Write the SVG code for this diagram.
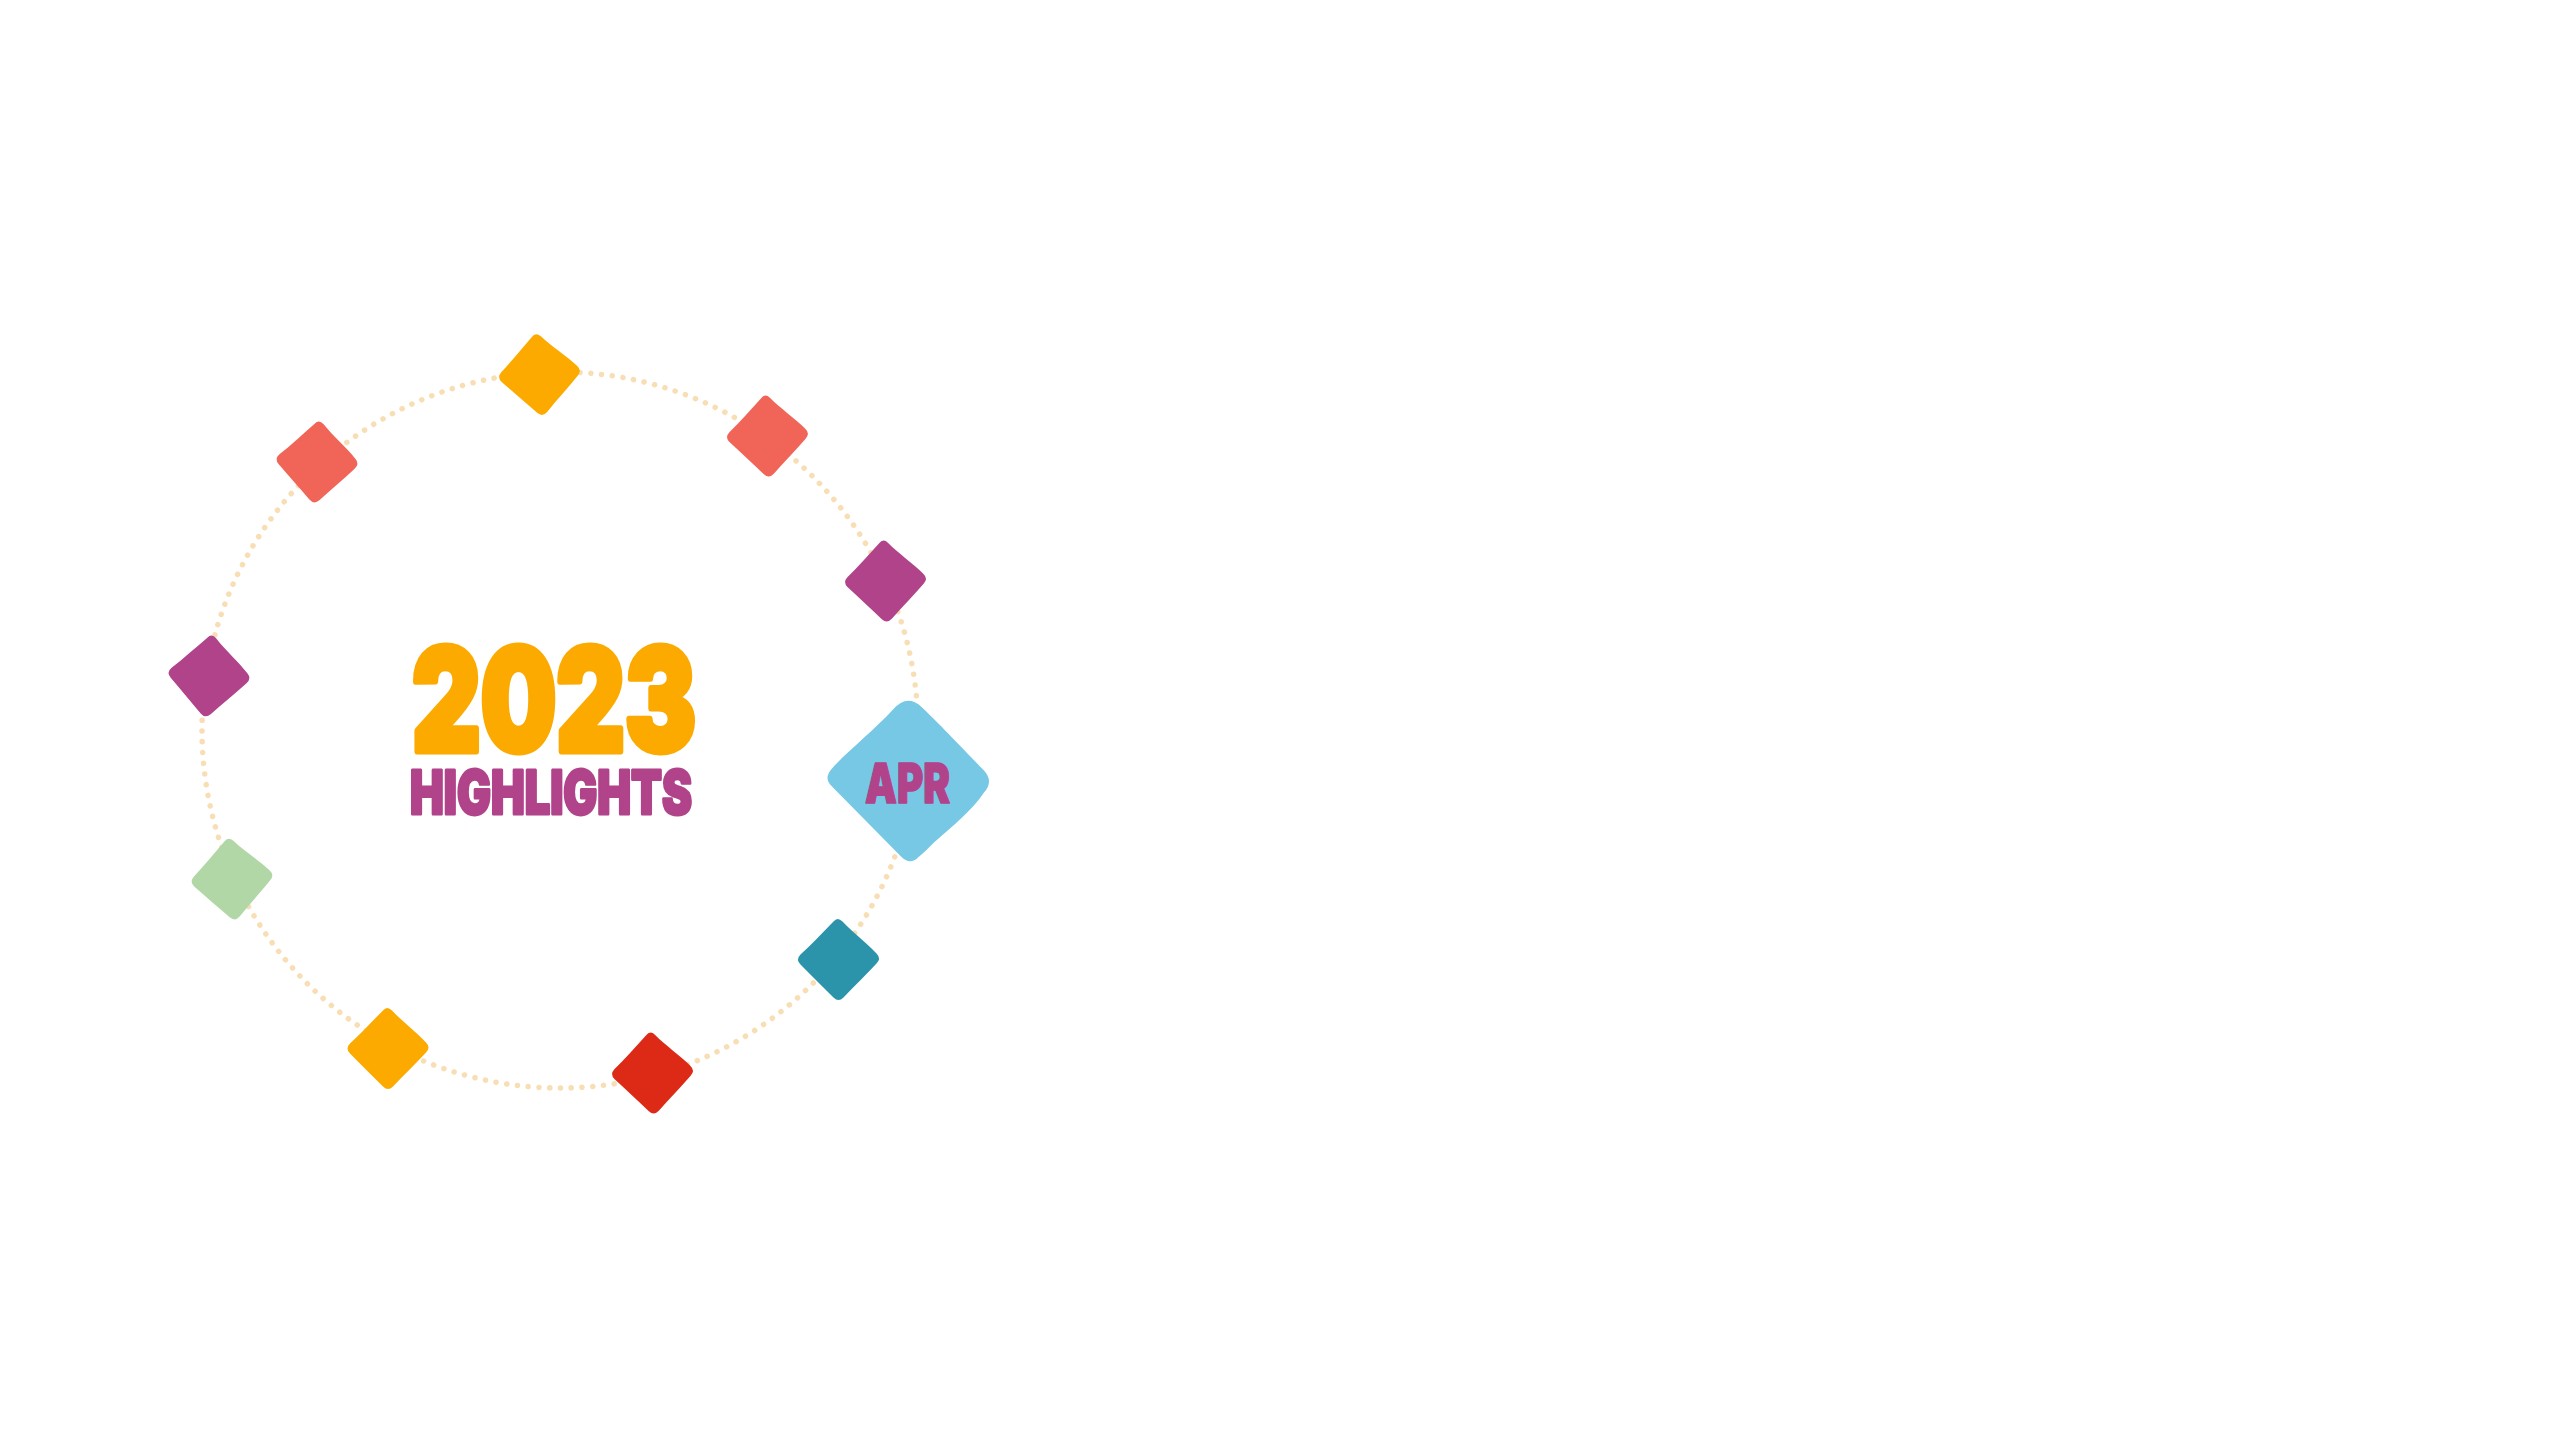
<svg xmlns="http://www.w3.org/2000/svg" width="2561" height="1441" viewBox="0 0 2561 1441">
<style>
.ring{fill:none;stroke:#f8deb4;stroke-width:5.5;stroke-linecap:round;stroke-dasharray:0.1 10.7}
.t{font-family:Inter,"Liberation Sans",sans-serif;font-weight:900;stroke-linejoin:round}
.o{fill:#fcaa00;stroke:#fcaa00;stroke-width:7;font-size:142px}
.p{fill:#b0438a;stroke:#b0438a;stroke-width:3;font-size:60px}
.apr{stroke-width:1.5;font-size:55px}
</style>
<defs>
<path id="d" d="M-5-38Q-1-43 4-38C14-27 28-17 38-6Q43-1 38 4C28 15 16 26 5 38Q0 43-5 38C-15 28-27 16-38 5Q-43 0-38-5C-27-15-16-27-5-38Z"/>
<path id="a" d="M-15-71Q-1-87 13-74C30-58 44-43 76-10Q86 1 76 12C64 30 44 46 26 62C20 68 15 73 10 77Q2 85-7 76L-76 6Q-85-2-76-12C-62-28-32-52-15-71Z"/>
</defs>
<g id="connectors"><circle class="ring" cx="560" cy="730" r="358"/></g>
<g id="node-top" fill="#fcaa00"><use href="#d" transform="translate(539.5 374.5) rotate(-4)"/></g>
<g id="node-ne" fill="#f06558"><use href="#d" transform="translate(767.5 436) rotate(-2)"/></g>
<g id="node-e" fill="#b0438a"><use href="#d" transform="translate(885.5 581) rotate(-2)"/></g>
<g id="node-apr"><use href="#a" x="908" y="780.5" fill="#76c8e5"/><text class="t p apr" x="865" y="803" textLength="85" lengthAdjust="spacingAndGlyphs">APR</text></g>
<g id="node-teal" fill="#2b94aa"><use href="#d" x="838.5" y="959.5"/></g>
<g id="node-red" fill="#dc2a17"><use href="#d" transform="translate(652.5 1073) rotate(-2)"/></g>
<g id="node-sw" fill="#fcaa00"><use href="#d" x="388" y="1048.5"/></g>
<g id="node-green" fill="#b2d7a7"><use href="#d" transform="translate(232 879) rotate(-4)"/></g>
<g id="node-w" fill="#b0438a"><use href="#d" transform="translate(209 676) rotate(5)"/></g>
<g id="node-nw" fill="#f06558"><use href="#d" transform="translate(317 462) rotate(4)"/></g>
<g id="title">
<text class="t o" x="412" y="751" textLength="284" lengthAdjust="spacingAndGlyphs">2023</text>
<text class="t p" x="410" y="814" textLength="282" lengthAdjust="spacingAndGlyphs">HIGHLIGHTS</text>
</g>
</svg>
